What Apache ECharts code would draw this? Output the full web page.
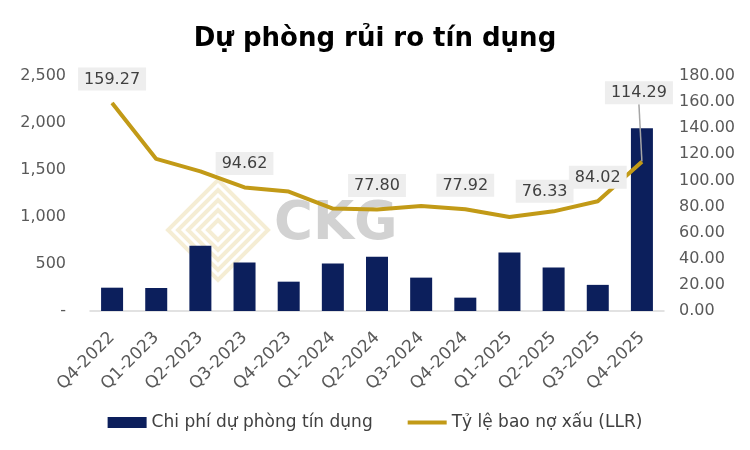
<!DOCTYPE html>
<html><head><meta charset="utf-8">
<script src="https://cdn.jsdelivr.net/npm/echarts@6/dist/echarts.min.js"></script>
<style>html,body{margin:0;padding:0;background:#fff}#c{width:750px;height:450px}</style>
</head><body><div id="c"></div>
<script>
const categories = ['Q4-2022','Q1-2023','Q2-2023','Q3-2023','Q4-2023','Q1-2024','Q2-2024','Q3-2024','Q4-2024','Q1-2025','Q2-2025','Q3-2025','Q4-2025'];
const provisionCost = [248, 245, 695, 515, 312, 505, 578, 355, 142, 622, 462, 278, 1945];
const llrRatio = [159.27, 116.5, 107.0, 94.62, 91.5, 78.5, 77.80, 80.5, 77.92, 72.0, 76.33, 84.02, 114.29];
const labelledIdx = [0, 3, 6, 8, 10, 11, 12];
const leaderIdx = 12;
const leftTicks = {min: 0, max: 2500, interval: 500};
const rightTicks = {min: 0, max: 180, interval: 20};

const FONT = 'DejaVu Sans';
const GOLD = '#c29a17';
const chart = echarts.init(document.getElementById('c'));
const lineData = llrRatio.map((v, i) => {
  const d = {value: v};
  if (labelledIdx.includes(i)) d.label = {show: true};
  if (i === leaderIdx) d.labelLine = {show: true};
  return d;
});

const logoShapes = [];
[50, 40, 30, 20, 10].forEach(r => {
  logoShapes.push({type: 'polygon', silent: true, z: 0,
    shape: {points: [[218, 230 - r], [218 + r, 230], [218, 230 + r], [218 - r, 230]]},
    style: {fill: null, stroke: 'rgba(232,215,160,0.45)', lineWidth: 4}});
});

chart.setOption({
  animation: false,
  title: {text: 'Dự phòng rủi ro tín dụng', left: 'center', top: 21,
    textStyle: {fontFamily: FONT, fontSize: 26, fontWeight: 'bold', color: '#000'}},
  grid: {left: 90, right: 86, top: 76, bottom: 139},
  legend: {bottom: 14, left: 'center', itemWidth: 39, itemHeight: 11, itemGap: 35,
    textStyle: {fontFamily: FONT, fontSize: 17, color: '#404040'},
    data: [
      {name: 'Chi phí dự phòng tín dụng', icon: 'rect'},
      {name: 'Tỷ lệ bao nợ xấu (LLR)', icon: 'path://M0,0H40V4H0Z'}
    ]},
  xAxis: {type: 'category', data: categories,
    axisLine: {lineStyle: {color: '#d9d9d9', width: 1.5}}, axisTick: {show: false},
    axisLabel: {rotate: 45, fontFamily: FONT, fontSize: 17, color: '#595959', margin: 24, interval: 0}},
  yAxis: [
    {type: 'value', min: leftTicks.min, max: leftTicks.max, interval: leftTicks.interval,
      splitLine: {show: false}, axisLine: {show: false}, axisTick: {show: false},
      axisLabel: {fontFamily: FONT, fontSize: 16, color: '#595959', margin: 24,
        formatter: v => v === 0 ? '-' : v.toLocaleString('en-US')}},
    {type: 'value', min: rightTicks.min, max: rightTicks.max, interval: rightTicks.interval,
      splitLine: {show: false}, axisLine: {show: false}, axisTick: {show: false},
      axisLabel: {fontFamily: FONT, fontSize: 16, color: '#595959', margin: 15,
        formatter: v => v.toFixed(2)}}
  ],
  graphic: logoShapes.concat([
    {type: 'text', left: 274, top: 199, silent: true, z: 0,
      style: {text: 'CKG', font: 'bold 53px "DejaVu Sans"', fill: '#d2d2d2'}}
  ]),
  series: [
    {name: 'Chi phí dự phòng tín dụng', type: 'bar', yAxisIndex: 0, data: provisionCost,
      barWidth: 22, itemStyle: {color: '#0c1f5c'}, z: 2},
    {name: 'Tỷ lệ bao nợ xấu (LLR)', type: 'line', yAxisIndex: 1, data: lineData,
      symbol: 'circle', symbolSize: 1, showSymbol: true,
      lineStyle: {color: GOLD, width: 4}, itemStyle: {color: GOLD}, z: 3,
      label: {show: false, position: 'top', distance: 12, fontFamily: FONT, fontSize: 16,
        color: '#404040', backgroundColor: '#eeeeee', padding: [4, 6, 3, 6],
        formatter: p => Number(p.value).toFixed(2)},
      labelLine: {show: false, lineStyle: {color: '#a6a6a6', width: 1.5}},
      labelLayout: p => {
        if (p.dataIndex === leaderIdx) return {dx: -3, dy: -45};
        if (p.dataIndex === 10) return {dx: -9, dy: 4};
        return {};
      }}
  ]
});
</script></body></html>
